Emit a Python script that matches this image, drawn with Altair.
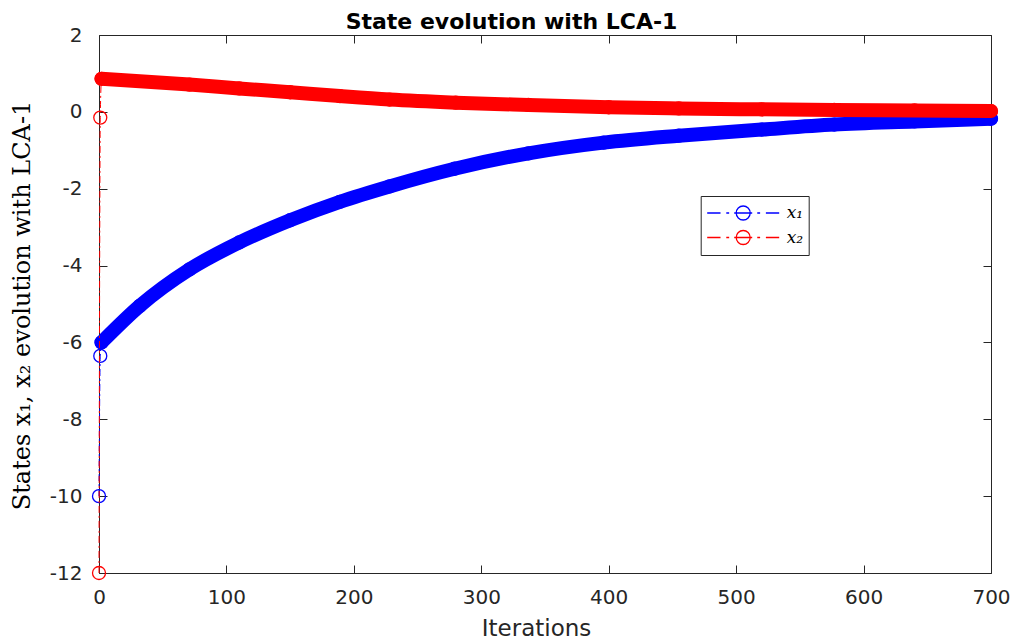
import altair as alt
import pandas as pd

# ---- values ----
x1_iter = [0, 1, 2, 32, 71, 110, 150, 189, 228, 279, 337, 396, 455, 520, 577, 640, 700]
x1_vals = [-10.0, -6.35, -6.0, -5.05, -4.1, -3.4, -2.82, -2.34, -1.94, -1.48, -1.08, -0.80, -0.62, -0.46, -0.33, -0.25, -0.18]
x2_iter = [0, 1, 2, 71, 110, 150, 189, 228, 280, 337, 400, 455, 520, 577, 640, 700]
x2_vals = [-12.0, -0.15, 0.86, 0.71, 0.61, 0.51, 0.41, 0.32, 0.24, 0.18, 0.12, 0.09, 0.065, 0.05, 0.035, 0.02]
series_names = ["x\u2081", "x\u2082"]
series_colors = ["#0000ff", "#ff0000"]
x_ticks = [0, 100, 200, 300, 400, 500, 600, 700]
y_ticks = [-12, -10, -8, -6, -4, -2, 0, 2]
dense_from = 2  # from this iteration on the circle markers merge into a band
title_text = "State evolution with LCA-1"

df = pd.DataFrame({
    "iter": x1_iter + x2_iter,
    "value": x1_vals + x2_vals,
    "series": [series_names[0]] * len(x1_iter) + [series_names[1]] * len(x2_iter),
})

W, H = 892, 538
INK = "#262626"
xs = alt.Scale(domain=[x_ticks[0], x_ticks[-1]], nice=False, zero=False)
ys = alt.Scale(domain=[y_ticks[0], y_ticks[-1]], nice=False, zero=False)
cs = alt.Scale(domain=series_names, range=series_colors)

LEGEND_PATH = ("M-1,0L-0.63,0M-0.47,0L-0.39,0M-0.25,0L0.25,0M0.39,0L0.47,0M0.63,0L1,0"
               "M0.194,0A0.194,0.194,0,1,1,-0.194,0A0.194,0.194,0,1,1,0.194,0")


def tick_axis(orient, offset, values):
    return alt.Axis(orient=orient, offset=offset, values=values, labels=False, domain=False,
                    title=None, ticks=True, tickSize=8, tickColor=INK, tickWidth=1, grid=False)


base = alt.Chart(df)

points = base.mark_point(shape="circle", filled=False, size=169, strokeWidth=1.3, opacity=1).encode(
    x=alt.X("iter:Q", scale=xs, axis=alt.Axis(
        orient="top", offset=0, values=x_ticks, labels=False, ticks=False, domain=False,
        grid=False, title=title_text, titleFont="DejaVu Sans", titleFontSize=22,
        titleFontWeight="bold", titleColor="black", titleX=412, titleY=-7,
        titleAlign="center", titleBaseline="alphabetic", titleAngle=0)),
    y=alt.Y("value:Q", scale=ys, axis=None),
    color=alt.Color("series:N", scale=cs, legend=alt.Legend(
        title=None, orient="none", legendX=601.7, legendY=161,
        symbolType=LEGEND_PATH, symbolSize=5184, symbolStrokeWidth=1.3,
        clipHeight=23, rowPadding=1.5, padding=5.5, labelOffset=6.5,
        labelFont="DejaVu Serif", labelFontStyle="italic", labelFontSize=17,
        labelColor="black", strokeColor=INK, fillColor="white", cornerRadius=0,
        labelExpr="datum.label + '\u00a0\u00a0\u00a0'")),
)

band_blue = base.transform_filter(
    (alt.datum.series == series_names[0]) & (alt.datum.iter >= dense_from)
).mark_line(strokeWidth=14, strokeCap="round", strokeJoin="round", interpolate="monotone",
            color=series_colors[0]).encode(
    x=alt.X("iter:Q", scale=xs, axis=alt.Axis(
        orient="bottom", values=x_ticks, ticks=False, domain=False, grid=False,
        labelFlush=False, labelPadding=14, labelFont="DejaVu Sans", labelFontSize=20,
        labelColor=INK, labelExpr="toString(datum.value)",
        title="Iterations", titleFont="DejaVu Sans", titleFontSize=23,
        titleFontWeight="normal", titleColor=INK, titleX=437, titleY=62,
        titleBaseline="alphabetic")),
    y=alt.Y("value:Q", scale=ys, axis=alt.Axis(
        orient="left", values=y_ticks, ticks=False, domain=False, grid=False,
        labelPadding=17, labelFont="DejaVu Sans", labelFontSize=20, labelColor=INK,
        labelExpr="toString(datum.value)",
        title="States x\u2081, x\u2082 evolution with LCA-1", titleFont="DejaVu Serif",
        titleFontSize=24, titleFontWeight="normal", titleColor="black",
        titleX=-77, titleY=270, titleAngle=270, titleAlign="center",
        titleBaseline="middle")),
)

band_red = base.transform_filter(
    (alt.datum.series == series_names[1]) & (alt.datum.iter >= dense_from)
).mark_line(strokeWidth=14, strokeCap="round", strokeJoin="round", interpolate="monotone",
            color=series_colors[1]).encode(
    x=alt.X("iter:Q", scale=xs, axis=tick_axis("top", -H, x_ticks)),
    y=alt.Y("value:Q", scale=ys, axis=tick_axis("right", -W, y_ticks)),
)

thin = base.mark_line(strokeWidth=1, strokeDash=[7, 3, 2, 3], interpolate="monotone").encode(
    x=alt.X("iter:Q", scale=xs, axis=tick_axis("bottom", -H, x_ticks)),
    y=alt.Y("value:Q", scale=ys, axis=tick_axis("left", -W, y_ticks)),
    color=alt.Color("series:N", scale=cs, legend=None),
)

chart = alt.layer(points, band_blue, band_red, thin).resolve_axis(
    x="independent", y="independent"
).properties(
    width=W, height=H,
    autosize=alt.AutoSizeParams(type="none"),
    padding={"left": 99, "top": 35, "right": 22, "bottom": 69},
    background="white",
).configure_view(stroke=INK, strokeWidth=1).configure_axis(grid=False)

chart.save("out.html", embed_options={"renderer": "svg", "actions": False})
